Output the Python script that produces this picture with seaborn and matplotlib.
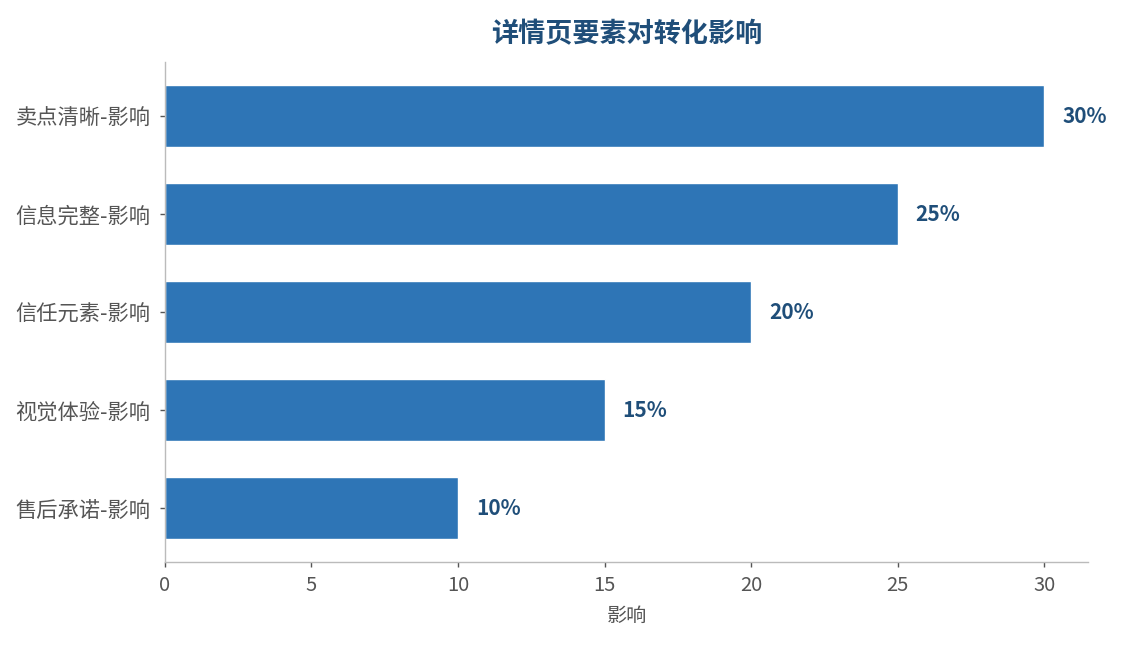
import matplotlib
matplotlib.use("Agg")
import matplotlib.pyplot as plt
import seaborn as sns
import pandas as pd

categories = ["卖点清晰-影响", "信息完整-影响", "信任元素-影响", "视觉体验-影响", "售后承诺-影响"]
values = [30, 25, 20, 15, 10]
value_labels = ["30%", "25%", "20%", "15%", "10%"]

sns.set_theme(style="white")
plt.rcParams['font.family'] = ['Noto Sans CJK SC', 'DejaVu Sans']

df = pd.DataFrame({"cat": categories, "val": values})

fig = plt.figure(figsize=(11.23, 6.45), dpi=100)
ax = fig.add_axes([0.1469, 0.1287, 0.822, 0.775])
sns.barplot(data=df, x="val", y="cat", orient="h", color="#2e75b6", saturation=1,
            width=0.63, ax=ax)

for i, (v, lab) in enumerate(zip(values, value_labels)):
    ax.annotate(lab, xy=(v, i), xytext=(13, 0), textcoords="offset points",
                va="center", ha="left", fontsize=15, fontweight="bold", color="#1f4e79")

ax.set_xlim(0, 31.5)
ax.set_ylim(4.55, -0.55)
ax.set_xticks([0, 5, 10, 15, 20, 25, 30])
ax.set_xlabel("影响", fontsize=14.5, color="#555555", labelpad=7)
ax.set_ylabel("")
ax.set_title("详情页要素对转化影响", fontsize=19.5, fontweight="bold", color="#1f4e79", pad=14)
ax.tick_params(axis="both", labelsize=14.5, colors="#555555", length=3.6, width=1,
               left=True, bottom=True)
ax.tick_params(axis="x", pad=6)
ax.tick_params(axis="y", labelsize=15.3, pad=7)
for s in ["top", "right"]:
    ax.spines[s].set_visible(False)
for s in ["left", "bottom"]:
    ax.spines[s].set_color("#bbbbbb")
    ax.spines[s].set_linewidth(1)

fig.savefig("out.png", dpi=100, facecolor="white")
